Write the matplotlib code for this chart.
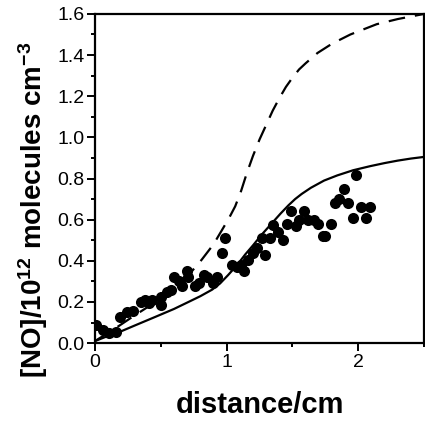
import matplotlib
matplotlib.use("Agg")
import matplotlib.pyplot as plt
import numpy as np
from matplotlib.ticker import MultipleLocator, FormatStrFormatter

plt.rcParams['font.family'] = ['Liberation Sans', 'DejaVu Sans']
plt.rcParams['mathtext.fontset'] = 'custom'
plt.rcParams['mathtext.rm'] = 'Liberation Sans:bold'
plt.rcParams['mathtext.bf'] = 'Liberation Sans:bold'
plt.rcParams['mathtext.default'] = 'bf'

# measured data points (distance / cm, [NO] / 1e12 molecules cm^-3)
data_x = [0.01, 0.06, 0.11, 0.16, 0.19, 0.24, 0.29, 0.35, 0.38, 0.41, 0.43,
          0.50, 0.50, 0.55, 0.58, 0.60, 0.64, 0.66, 0.70, 0.71, 0.76, 0.79,
          0.83, 0.85, 0.90, 0.93, 0.965, 0.99, 1.04, 1.08, 1.11, 1.13, 1.165,
          1.20, 1.23, 1.27, 1.29, 1.33, 1.35, 1.39, 1.43, 1.46, 1.49, 1.53,
          1.55, 1.59, 1.62, 1.66, 1.69, 1.73, 1.75, 1.79, 1.82, 1.855, 1.89,
          1.92, 1.96, 1.985, 2.02, 2.055, 2.09]
data_y = [0.088, 0.063, 0.05, 0.055, 0.128, 0.153, 0.158, 0.20, 0.21, 0.195,
          0.21, 0.185, 0.226, 0.25, 0.26, 0.32, 0.30, 0.28, 0.35, 0.32, 0.28,
          0.29, 0.33, 0.32, 0.29, 0.32, 0.44, 0.51, 0.38, 0.37, 0.38, 0.35,
          0.405, 0.44, 0.46, 0.51, 0.43, 0.51, 0.575, 0.54, 0.50, 0.58, 0.64,
          0.57, 0.60, 0.64, 0.60, 0.60, 0.58, 0.52, 0.52, 0.58, 0.68, 0.70,
          0.75, 0.68, 0.61, 0.815, 0.66, 0.61, 0.66]

# model curves
solid_x = [0.0, 0.08, 0.16, 0.30, 0.46, 0.60, 0.71, 0.80, 0.89, 0.95, 1.01,
           1.08, 1.14, 1.20, 1.27, 1.34, 1.41, 1.47, 1.52, 1.57, 1.64, 1.74,
           1.84, 1.96, 2.09, 2.20, 2.30, 2.40, 2.5]
solid_y = [0.01, 0.03, 0.047, 0.085, 0.128, 0.166, 0.20, 0.228, 0.26, 0.29,
           0.33, 0.38, 0.43, 0.475, 0.53, 0.58, 0.63, 0.67, 0.70, 0.725, 0.755,
           0.79, 0.815, 0.84, 0.86, 0.875, 0.887, 0.897, 0.905]
dash_x = [0.0, 0.15, 0.29, 0.46, 0.60, 0.69, 0.81, 0.90, 0.965, 1.02, 1.065,
          1.11, 1.15, 1.20, 1.25, 1.30, 1.35, 1.40, 1.45, 1.50, 1.55, 1.60,
          1.69, 1.80, 1.94, 2.14, 2.30, 2.5]
dash_y = [0.01, 0.07, 0.13, 0.20, 0.26, 0.315, 0.405, 0.48, 0.55, 0.61, 0.665,
          0.74, 0.82, 0.91, 0.99, 1.06, 1.13, 1.19, 1.245, 1.29, 1.33, 1.36,
          1.41, 1.455, 1.50, 1.55, 1.575, 1.60]

fig = plt.figure(figsize=(4.25, 4.21), dpi=100)
ax = fig.add_axes([0.2235, 0.185, 0.7745, 0.782])

ax.plot(dash_x, dash_y, color='black', lw=1.6, ls=(0, (7.5, 4.5)))
ax.plot(solid_x, solid_y, color='black', lw=1.6)
ax.plot(data_x, data_y, 'o', color='black', ms=8, mew=0)

ax.set_xlim(0, 2.5)
ax.set_ylim(0, 1.6)
ax.xaxis.set_major_locator(MultipleLocator(1))
ax.xaxis.set_minor_locator(MultipleLocator(0.5))
ax.yaxis.set_major_locator(MultipleLocator(0.2))
ax.yaxis.set_minor_locator(MultipleLocator(0.1))
ax.yaxis.set_major_formatter(FormatStrFormatter('%.1f'))

for s in ax.spines.values():
    s.set_linewidth(1.6)
ax.tick_params(which='both', direction='out', top=False, right=False,
               width=1.4, labelsize=14)
ax.tick_params(which='major', length=6, pad=1.5)
ax.tick_params(which='minor', length=3)

ax.set_xlabel('distance/cm', fontsize=21, fontweight='bold', labelpad=15)
ax.set_ylabel(r'[NO]/10$^{12}$ molecules cm$^{-3}$', fontsize=20,
              fontweight='bold', labelpad=5, y=0.405)

fig.savefig('out.png', dpi=100)
